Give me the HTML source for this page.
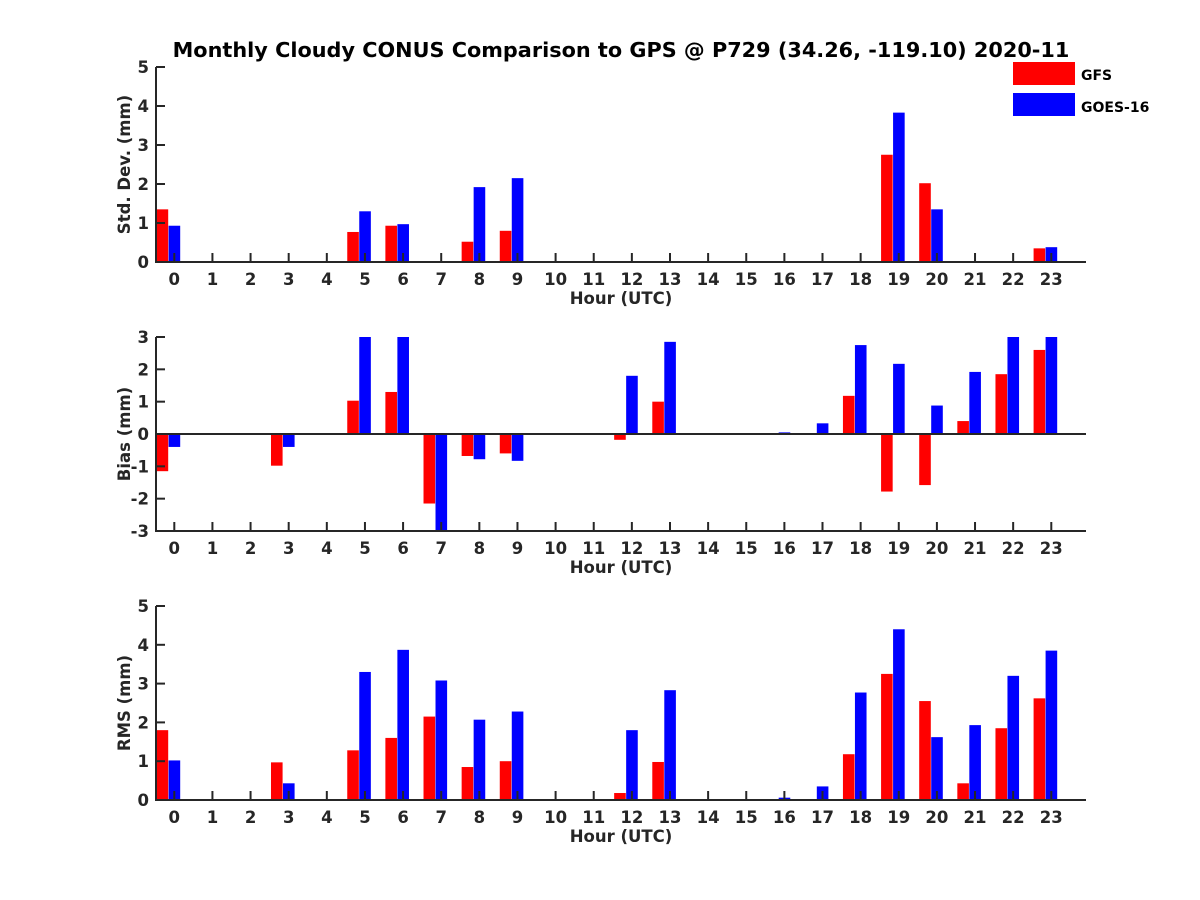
<!DOCTYPE html>
<html><head><meta charset="utf-8"><style>body{margin:0;background:#fff}svg{display:block;font-family:"DejaVu Sans","Liberation Sans",sans-serif;font-weight:bold}</style></head>
<body>
<svg id="c" width="1200" height="900">
<text x="621" y="57" text-anchor="middle" font-size="20.8" fill="#000">Monthly Cloudy CONUS Comparison to GPS @ P729 (34.26, -119.10) 2020-11</text>
<g>
<rect x="1013" y="62" width="62" height="23" fill="#ff0000"/>
<text x="1081" y="80" font-size="14" fill="#000">GFS</text>
<rect x="1013" y="93" width="62" height="23" fill="#0000ff"/>
<text x="1081" y="112" font-size="14" fill="#000">GOES-16</text>
</g>
</svg>
<script>
const hours=[0,1,2,3,4,5,6,7,8,9,10,11,12,13,14,15,16,17,18,19,20,21,22,23];
const n=null;
const stdGFS=[1.35,n,n,n,n,0.77,0.93,n,0.52,0.8,n,n,n,n,n,n,n,n,n,2.75,2.02,n,n,0.35];
const stdGOES=[0.93,n,n,n,n,1.3,0.97,n,1.92,2.15,n,n,n,n,n,n,n,n,n,3.83,1.35,n,n,0.38];
const biasGFS=[-1.15,n,n,-0.98,n,1.03,1.3,-2.15,-0.68,-0.6,n,n,-0.18,1.0,n,n,0.02,n,1.18,-1.78,-1.58,0.4,1.85,2.6];
const biasGOES=[-0.4,n,n,-0.4,n,3.5,3.5,-3.5,-0.78,-0.83,n,n,1.8,2.85,n,n,0.05,0.33,2.75,2.17,0.88,1.92,3.5,3.5];
const rmsGFS=[1.8,n,n,0.97,n,1.28,1.6,2.15,0.85,1.0,n,n,0.18,0.98,n,n,n,n,1.18,3.25,2.55,0.43,1.85,2.62];
const rmsGOES=[1.02,n,n,0.43,n,3.3,3.87,3.08,2.07,2.28,n,n,1.8,2.83,n,n,0.06,0.35,2.77,4.4,1.62,1.93,3.2,3.85];
const stdTicks=[0,1,2,3,4,5], biasTicks=[-3,-2,-1,0,1,2,3], rmsTicks=[0,1,2,3,4,5];
const svg=document.getElementById('c');const NS='http://www.w3.org/2000/svg';
function mk(t,a,p){const e=document.createElementNS(NS,t);for(const k in a)e.setAttribute(k,a[k]);p.appendChild(e);return e;}
const X0=156,X1=1086;
function xs(h){return 174.3+h*38.13;}
function panel(name,top,bot,ymin,ymax,ticks,g1,g2,ylab){
  const g=mk('g',{},svg);
  
  
  const ys=v=>bot-(Math.max(ymin,Math.min(ymax,v))-ymin)/(ymax-ymin)*(bot-top);
  const zero=ys(Math.max(ymin,0));
  hours.forEach((h,i)=>{
    const c=xs(h);
    [[g1[i],'#ff0000',c-17.7,'gfs'],[g2[i],'#0000ff',c-5.7,'goes']].forEach(([v,col,x,s])=>{
      if(v===null)return;
      const y=ys(v);
      const r=mk('rect',{x:x,y:Math.min(y,zero),width:11.6,height:Math.abs(zero-y),fill:col},g);
      
      
    });
  });
  const ax=mk('path',{d:`M${X0},${top}V${bot}H${X1}`,stroke:'#262626','stroke-width':2,fill:'none'},g);
  
  
  if(ymin<0){const z=mk('line',{x1:X0,x2:X1,y1:zero,y2:zero,stroke:'#262626','stroke-width':2},g);
    
    }
  hours.forEach(h=>{
    const c=xs(h);
    mk('line',{x1:c,x2:c,y1:bot,y2:bot-9,stroke:'#262626','stroke-width':2},g);
    const t=mk('text',{x:c,y:bot+23,'text-anchor':'middle','font-size':16.5,fill:'#262626'},g);
    t.textContent=h;
    
    
  });
  ticks.forEach(v=>{
    const y=ys(v);
    mk('line',{x1:X0,x2:X0+9,y1:y,y2:y,stroke:'#262626','stroke-width':2},g);
    const t=mk('text',{x:X0-7,y:y+6,'text-anchor':'end','font-size':16.5,fill:'#262626'},g);
    t.textContent=v;
    
    
  });
  const xl=mk('text',{x:621,y:bot+42,'text-anchor':'middle','font-size':16.5,fill:'#262626'},g);
  xl.textContent='Hour (UTC)';
  
  
  const cy=(top+bot)/2;
  const yl=mk('text',{x:130,y:cy,'text-anchor':'middle','font-size':16.5,fill:'#262626',transform:`rotate(-90 130 ${cy})`},g);
  yl.textContent=ylab;
  
  
}
panel('std',67,262,0,5,stdTicks,stdGFS,stdGOES,'Std. Dev. (mm)');
panel('bias',337,531,-3,3,biasTicks,biasGFS,biasGOES,'Bias (mm)');
panel('rms',606,800,0,5,rmsTicks,rmsGFS,rmsGOES,'RMS (mm)');
</script>
</body></html>
